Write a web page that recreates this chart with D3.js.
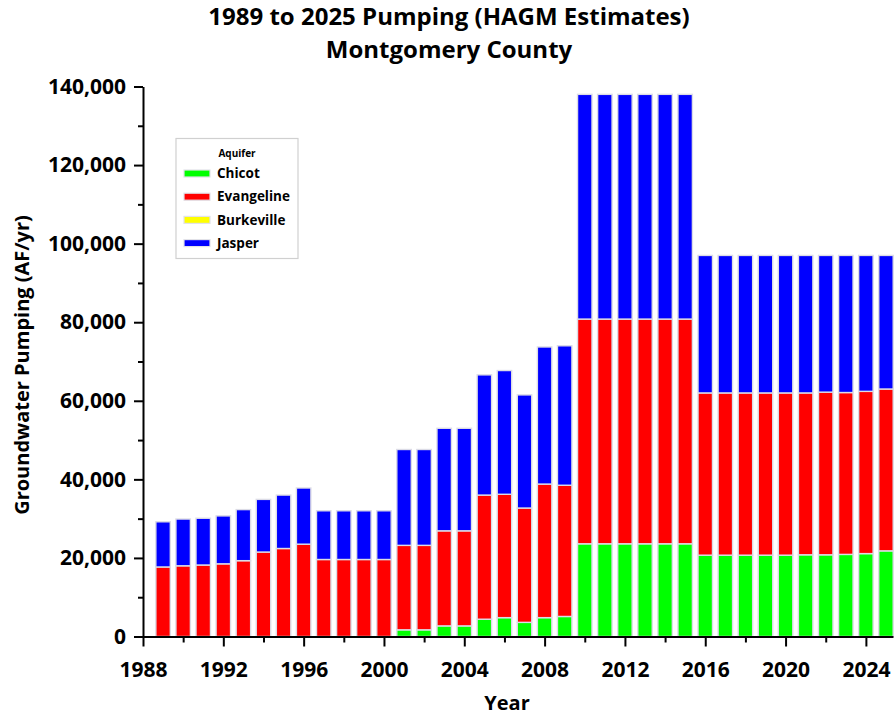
<!DOCTYPE html>
<html>
<head>
<meta charset="utf-8">
<script src="https://cdn.jsdelivr.net/npm/d3@7"></script>
<style>
  html, body { margin: 0; padding: 0; background: #fff; }
  svg { display: block; }
  text { font-family: "Open Sans", "Noto Sans", sans-serif; font-weight: 700; fill: #000; }
</style>
</head>
<body>
<svg id="chart" width="896" height="717"></svg>
<script>
// Estimated annual groundwater pumping by aquifer (acre-feet per year)
const years = d3.range(1989, 2026);
const chicot = [
  0, 0, 0, 0, 0, 0, 0, 0, 0, 0, 0, 0,
  1700, 1700, 2700, 2700, 4400, 4800, 3600, 4800, 5100,
  23600, 23600, 23600, 23600, 23600, 23600,
  20700, 20700, 20700, 20700, 20700, 20800, 20800, 20900, 21100, 21800
];
const evangeline = [
  17700, 18000, 18200, 18500, 19300, 21500, 22400, 23500, 19600, 19600, 19600, 19600,
  21500, 21500, 24200, 24200, 31600, 31400, 29100, 34000, 33400,
  57200, 57200, 57200, 57200, 57200, 57200,
  41300, 41300, 41300, 41300, 41300, 41200, 41400, 41200, 41300, 41200
];
const burkeville = new Array(37).fill(0);
const jasper = [
  11500, 11900, 11900, 12200, 13000, 13400, 13600, 14300, 12400, 12400, 12400, 12400,
  24400, 24400, 26100, 26100, 30600, 31500, 28800, 34900, 35500,
  57200, 57200, 57200, 57200, 57200, 57200,
  35000, 35000, 35000, 35000, 35000, 35000, 34800, 34900, 34600, 34000
];
const seriesNames = ["Chicot", "Evangeline", "Burkeville", "Jasper"];
const seriesColors = ["#00ff00", "#ff0000", "#ffff00", "#0000ff"];
const yTickValues = [0, 20000, 40000, 60000, 80000, 100000, 120000, 140000];
const xTickValues = [1988, 1992, 1996, 2000, 2004, 2008, 2012, 2016, 2020, 2024];

const rows = years.map((yr, i) => ({
  year: yr,
  Chicot: chicot[i],
  Evangeline: evangeline[i],
  Burkeville: burkeville[i],
  Jasper: jasper[i]
}));

const svg = d3.select("#chart");

const x = d3.scaleLinear().domain([1988, 2025.35]).range([143, 893]);
const y = d3.scaleLinear().domain([0, 140000]).range([636.5, 86.5]);
const color = d3.scaleOrdinal().domain(seriesNames).range(seriesColors);

const stacked = d3.stack().keys(seriesNames)(rows);
const barW = (x(1) - x(0)) * 0.72;

// Stacked bars
svg.append("g")
  .selectAll("g")
  .data(stacked)
  .join("g")
    .attr("fill", d => color(d.key))
  .selectAll("rect")
  .data(d => d.filter(p => p[1] - p[0] > 0))
  .join("rect")
    .attr("x", p => x(p.data.year) - barW / 2)
    .attr("width", barW)
    .attr("y", p => y(p[1]))
    .attr("height", p => y(p[0]) - y(p[1]))
    .attr("stroke", "#dcdce6")
    .attr("stroke-width", 1.4);

// X axis: labelled ticks every 4 years, minor ticks in between
const xAxisG = svg.append("g").attr("transform", `translate(0,${y(0)})`);
xAxisG.append("g")
  .call(d3.axisBottom(x).tickValues(d3.range(1990, 2025, 4)).tickSize(6).tickSizeOuter(0).tickFormat(""))
  .call(g => g.select(".domain").remove());
xAxisG.append("g")
  .call(d3.axisBottom(x).tickValues(xTickValues).tickSize(10).tickSizeOuter(0).tickPadding(16).tickFormat(d3.format("d")))
  .call(g => g.select(".domain").attr("stroke-width", 2))
  .call(g => g.selectAll(".tick text").attr("font-size", 21).attr("font-family", null).attr("fill", "#000"));
xAxisG.selectAll(".tick line").attr("stroke", "#000").attr("stroke-width", 2);

// Y axis: labelled ticks every 20,000, minor ticks every 10,000
const yAxisG = svg.append("g").attr("transform", `translate(${x(1988)},0)`);
yAxisG.append("g")
  .call(d3.axisLeft(y).tickValues(d3.range(10000, 140000, 20000)).tickSize(5).tickSizeOuter(0).tickFormat(""))
  .call(g => g.select(".domain").remove());
yAxisG.append("g")
  .call(d3.axisLeft(y).tickValues(yTickValues).tickSize(9).tickSizeOuter(0).tickPadding(8).tickFormat(d3.format(",")))
  .call(g => g.select(".domain").attr("stroke-width", 2))
  .call(g => g.selectAll(".tick text").attr("font-size", 21).attr("font-family", null).attr("fill", "#000"));
yAxisG.selectAll(".tick line").attr("stroke", "#000").attr("stroke-width", 2);

// Titles
svg.append("text")
  .attr("x", 449).attr("y", 25)
  .attr("text-anchor", "middle").attr("font-size", 24)
  .text("1989 to 2025 Pumping (HAGM Estimates)");
svg.append("text")
  .attr("x", 449).attr("y", 58)
  .attr("text-anchor", "middle").attr("font-size", 24)
  .text("Montgomery County");
svg.append("text")
  .attr("x", 507).attr("y", 710)
  .attr("text-anchor", "middle").attr("font-size", 20)
  .text("Year");
svg.append("text")
  .attr("transform", "translate(29,365) rotate(-90)")
  .attr("text-anchor", "middle").attr("font-size", 20)
  .text("Groundwater Pumping (AF/yr)");

// Legend
const legend = svg.append("g");
legend.append("rect")
  .attr("x", 176).attr("y", 138.5).attr("width", 122).attr("height", 120)
  .attr("fill", "#fff").attr("stroke", "#d0d0d0").attr("stroke-width", 1.2);
legend.append("text")
  .attr("x", 237).attr("y", 157)
  .attr("text-anchor", "middle").attr("font-size", 10)
  .text("Aquifer");
const items = legend.selectAll("g.item")
  .data(seriesNames)
  .join("g")
    .attr("class", "item")
    .attr("transform", (d, i) => `translate(0,${173.5 + i * 23.2})`);
items.append("rect")
  .attr("x", 184).attr("y", -3.5).attr("width", 26).attr("height", 7)
  .attr("fill", d => color(d))
  .attr("stroke", "#e2e2e8").attr("stroke-width", 1.2);
items.append("text")
  .attr("x", 217).attr("y", 0).attr("dy", "0.35em")
  .attr("font-size", 13.5)
  .text(d => d);
</script>
</body>
</html>
